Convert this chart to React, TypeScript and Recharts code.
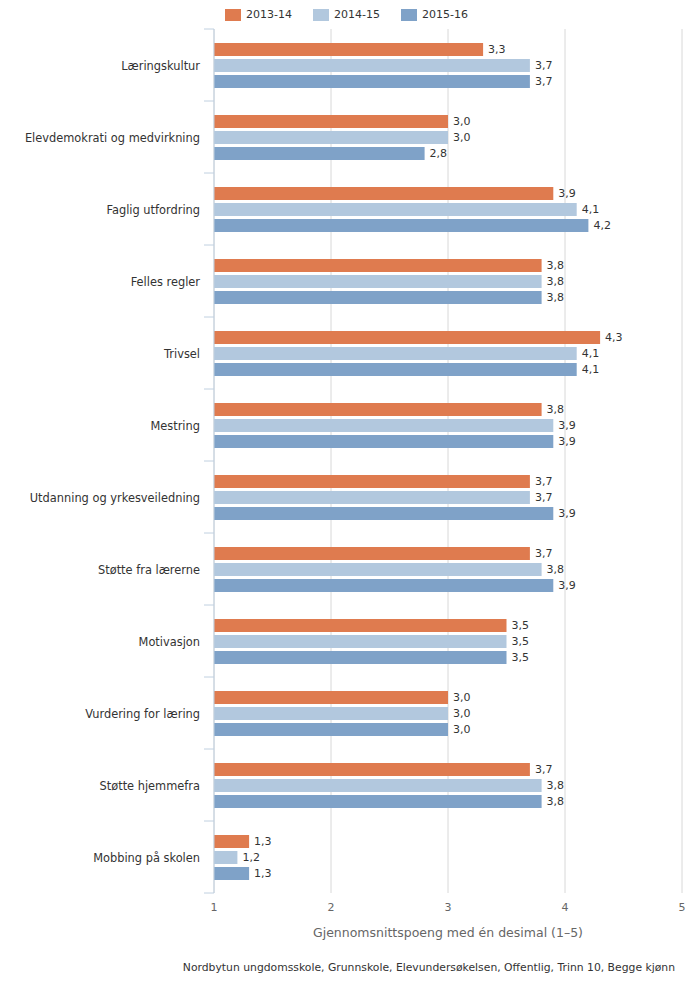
import React from "react";
import { BarChart, Bar, XAxis, YAxis, CartesianGrid, LabelList, Label } from "recharts";

const categories = [
  "Læringskultur",
  "Elevdemokrati og medvirkning",
  "Faglig utfordring",
  "Felles regler",
  "Trivsel",
  "Mestring",
  "Utdanning og yrkesveiledning",
  "Støtte fra lærerne",
  "Motivasjon",
  "Vurdering for læring",
  "Støtte hjemmefra",
  "Mobbing på skolen",
];

const values1314 = [3.3, 3.0, 3.9, 3.8, 4.3, 3.8, 3.7, 3.7, 3.5, 3.0, 3.7, 1.3];
const values1415 = [3.7, 3.0, 4.1, 3.8, 4.1, 3.9, 3.7, 3.8, 3.5, 3.0, 3.8, 1.2];
const values1516 = [3.7, 2.8, 4.2, 3.8, 4.1, 3.9, 3.9, 3.9, 3.5, 3.0, 3.8, 1.3];

const seriesNames = ["2013-14", "2014-15", "2015-16"];
const colors = ["#DF7B4F", "#B2C8DE", "#7FA2C8"];
const xTicks = [1, 2, 3, 4, 5];

const axisTitle = "Gjennomsnittspoeng med én desimal (1–5)";
const footer =
  "Nordbytun ungdomsskole, Grunnskole, Elevundersøkelsen, Offentlig, Trinn 10, Begge kjønn";

const data = categories.map((name, i) => ({
  name,
  s0: values1314[i],
  s1: values1415[i],
  s2: values1516[i],
}));

const W = 684;
const H = 980;
const margin = { top: 21, right: 10, left: 0, bottom: 51 };
const X_AXIS_H = 44;
const BAND = (H - margin.top - margin.bottom - X_AXIS_H) / categories.length;

const font = "'DejaVu Sans', Verdana, sans-serif";

const fmt = (v: any) => String(Number(v).toFixed(1)).replace(".", ",");

const CategoryTick = (props: any) => {
  const { x, y, payload, index } = props;
  const half = BAND / 2;
  return (
    <g>
      <line x1={x - 10} x2={x} y1={y - half} y2={y - half} stroke="#C0D0E0" />
      {index === categories.length - 1 && (
        <line x1={x - 10} x2={x} y1={y + half} y2={y + half} stroke="#C0D0E0" />
      )}
      <text x={x - 14} y={y} dy={5} textAnchor="end" fill="#333" fontSize={11.4} fontFamily={font}>
        {payload.value}
      </text>
    </g>
  );
};

export default function App() {
  return (
    <div style={{ position: "relative", width: W, height: H, fontFamily: font }}>
      <div style={{ position: "absolute", left: 217, top: 1, display: "flex", alignItems: "center" }}>
        {seriesNames.map((s, i) => (
          <div key={s} style={{ display: "flex", alignItems: "center", marginRight: 21 }}>
            <div style={{ width: 16, height: 12, background: colors[i], marginRight: 5 }} />
            <span style={{ fontSize: 11, color: "#333", lineHeight: "12px" }}>{s}</span>
          </div>
        ))}
      </div>
      <BarChart
        width={W}
        height={H}
        data={data}
        layout="vertical"
        margin={margin}
        barSize={13}
        barGap={3}
      >
        <CartesianGrid horizontal={false} stroke="#D8D8D8" />
        <XAxis
          type="number"
          domain={[1, 5]}
          ticks={xTicks}
          axisLine={false}
          tickLine={false}
          tickSize={0}
          tickMargin={10}
          height={X_AXIS_H}
          tick={{ fill: "#666", fontSize: 11, fontFamily: font }}
        >
          <Label
            value={axisTitle}
            position="insideBottom"
            offset={0}
            fill="#666"
            fontSize={12.5}
            fontFamily={font}
          />
        </XAxis>
        <YAxis
          type="category"
          dataKey="name"
          width={206}
          axisLine={{ stroke: "#C0D0E0" }}
          tickLine={false}
          tickSize={0}
          tickMargin={0}
          interval={0}
          tick={<CategoryTick />}
        />
        {["s0", "s1", "s2"].map((k, i) => (
          <Bar key={k} dataKey={k} name={seriesNames[i]} fill={colors[i]} isAnimationActive={false}>
            <LabelList
              dataKey={k}
              position="right"
              offset={5}
              formatter={fmt}
              fill="#333"
              fontSize={11}
              fontFamily={font}
            />
          </Bar>
        ))}
      </BarChart>
      <div
        style={{
          position: "absolute",
          right: 17,
          top: 954,
          fontSize: 10.8,
          lineHeight: "12px",
          color: "#333",
          whiteSpace: "nowrap",
        }}
      >
        {footer}
      </div>
    </div>
  );
}
